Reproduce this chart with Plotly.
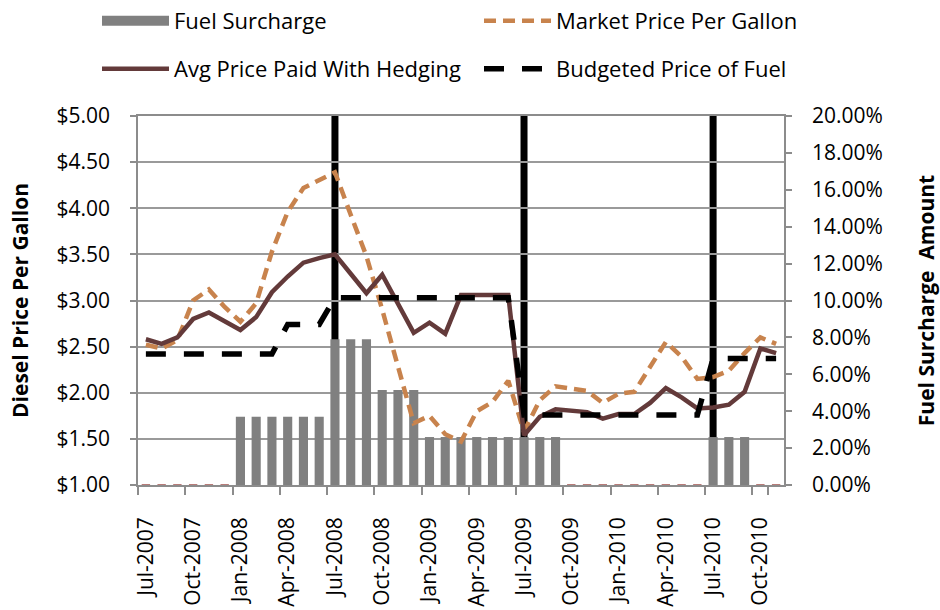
import plotly.graph_objects as go

# ---- data ----
month_names = ["Jan", "Feb", "Mar", "Apr", "May", "Jun", "Jul", "Aug", "Sep", "Oct", "Nov", "Dec"]
months = [f"{month_names[(6 + k) % 12]}-{2007 + (6 + k) // 12}" for k in range(41)]  # Jul-2007 .. Nov-2010
tick_months = months[::3]

fuel_surcharge = [0, 0, 0, 0, 0, 0,
                  3.7, 3.7, 3.7, 3.7, 3.7, 3.7,
                  7.9, 7.9, 7.9,
                  5.15, 5.15, 5.15,
                  2.6, 2.6, 2.6, 2.6, 2.6, 2.6, 2.6, 2.6, 2.6,
                  0, 0, 0, 0, 0, 0, 0, 0, 0,
                  2.6, 2.6, 2.6,
                  0, 0]

market_price = [2.52, 2.48, 2.57, 3.00, 3.12, 2.93, 2.77, 2.97, 3.53, 3.96, 4.22, 4.30,
                4.39, 3.93, 3.48, 2.90, 2.28, 1.67, 1.75, 1.55, 1.47, 1.80, 1.90, 2.13,
                1.58, 1.92, 2.07, 2.04, 2.02, 1.89, 1.99, 2.01, 2.28, 2.55, 2.39, 2.15,
                2.17, 2.24, 2.43, 2.60, 2.53]

avg_price_hedged = [2.58, 2.53, 2.60, 2.80, 2.87, 2.78, 2.68, 2.82, 3.09, 3.26, 3.41, 3.46,
                    3.50, 3.29, 3.08, 3.28, 2.97, 2.65, 2.76, 2.64, 3.06, 3.06, 3.06, 3.06,
                    1.54, 1.74, 1.82, 1.80, 1.79, 1.72, 1.77, 1.77, 1.89, 2.05, 1.95, 1.83,
                    1.84, 1.87, 2.01, 2.48, 2.43]

budget_price = [2.42] * 9 + [2.74] * 3 + [3.03] * 12 + [1.76] * 12 + [2.37] * 5

event_months = ["Jul-2008", "Jul-2009", "Jul-2010"]

# ---- styles ----
FONT = "'Open Sans', Lato, sans-serif"
GRAY_BAR = "#808080"
ORANGE = "#C8834D"
BROWN = "#633A3A"
AXIS_GRAY = "#8C8C8C"

fig = go.Figure()

# bars on the percent axis (primary, drawn underneath the price lines)
fig.add_trace(go.Bar(
    x=months, y=fuel_surcharge, name="Fuel Surcharge",
    marker=dict(color=GRAY_BAR, line=dict(width=0)),
    yaxis="y", showlegend=False, legendgroup="fs",
))

# small marks at the baseline for months with no surcharge
zero_months = [m for m, v in zip(months, fuel_surcharge) if v == 0]
fig.add_trace(go.Scatter(
    x=zero_months, y=[0] * len(zero_months), mode="markers",
    marker=dict(symbol="line-ew", size=6, line=dict(width=1.5, color="#A0504D")),
    yaxis="y", showlegend=False, hoverinfo="skip", cliponaxis=False,
))

# legend proxy for the bars
fig.add_trace(go.Scatter(
    x=[None], y=[None], mode="lines", name="Fuel Surcharge",
    line=dict(color=GRAY_BAR, width=16), yaxis="y2", legend="legend", legendgroup="fs",
))

fig.add_trace(go.Scatter(
    x=months, y=market_price, mode="lines", name="Market Price Per Gallon",
    line=dict(color=ORANGE, width=4.5, dash="12px,7px"), yaxis="y2", legend="legend2",
))
fig.add_trace(go.Scatter(
    x=months, y=avg_price_hedged, mode="lines", name="Avg Price Paid With Hedging",
    line=dict(color=BROWN, width=4.5), yaxis="y2", legend="legend3",
))
fig.add_trace(go.Scatter(
    x=months, y=budget_price, mode="lines", name="Budgeted Price of Fuel",
    line=dict(color="#000000", width=5.5, dash="20px,18px"), yaxis="y2", legend="legend4",
))

shapes = [dict(type="line", xref="x", yref="paper", x0=m, x1=m, y0=0, y1=1,
               line=dict(color="black", width=7), layer="between") for m in event_months]


def legend_at(px, py):
    return dict(orientation="h", xref="container", yref="container",
                x=px / 940, y=1 - py / 610, xanchor="left", yanchor="middle",
                font=dict(family=FONT, size=22, color="black"), bgcolor="rgba(0,0,0,0)",
                itemwidth=67, borderwidth=0)


fig.update_layout(
    width=940, height=610,
    margin=dict(l=138, r=156, t=116, b=125, autoexpand=False),
    paper_bgcolor="white", plot_bgcolor="white",
    font=dict(family=FONT, size=20, color="black"),
    bargap=0.42,
    shapes=shapes,
    legend=legend_at(97, 21),
    legend2=legend_at(479, 21),
    legend3=legend_at(97, 69),
    legend4=legend_at(479, 69),
    xaxis=dict(
        type="category", categoryorder="array", categoryarray=months,
        range=[-0.5, len(months) - 0.5], automargin=False,
        tickmode="array", tickvals=tick_months, ticktext=tick_months,
        tickangle=-90, ticks="outside", tickson="boundaries", ticklen=8,
        tickcolor=AXIS_GRAY, tickwidth=1.5, ticklabelstandoff=22,
        showline=True, linecolor=AXIS_GRAY, linewidth=1.5, mirror=True,
        showgrid=False, tickfont=dict(family=FONT, size=21),
    ),
    yaxis=dict(
        side="right", range=[0, 20], dtick=2, tick0=0, automargin=False,
        ticksuffix="%", tickformat=".2f",
        showgrid=False, zeroline=False,
        ticks="outside", ticklen=6, tickcolor=AXIS_GRAY, tickwidth=1.5,
        ticklabelstandoff=16,
        showline=True, linecolor=AXIS_GRAY, linewidth=1.5,
        tickfont=dict(family=FONT, size=21),
        title=dict(text="<b>Fuel Surcharge  Amount</b>", font=dict(family=FONT, size=21), standoff=41),
    ),
    yaxis2=dict(
        overlaying="y", side="left", range=[1, 5], dtick=0.5, tick0=1, automargin=False,
        tickprefix="$", tickformat=".2f",
        showgrid=True, gridcolor="#9A9A9A", gridwidth=1.5, zeroline=False,
        ticks="outside", ticklen=6, tickcolor=AXIS_GRAY, tickwidth=1.5,
        ticklabelstandoff=16,
        showline=True, linecolor=AXIS_GRAY, linewidth=1.5,
        tickfont=dict(family=FONT, size=21),
        title=dict(text="<b>Diesel Price Per Gallon</b>", font=dict(family=FONT, size=21), standoff=22),
    ),
)

fig.write_html("out.html", config={"displayModeBar": False},
               post_script="document.body.style.margin='0';")
